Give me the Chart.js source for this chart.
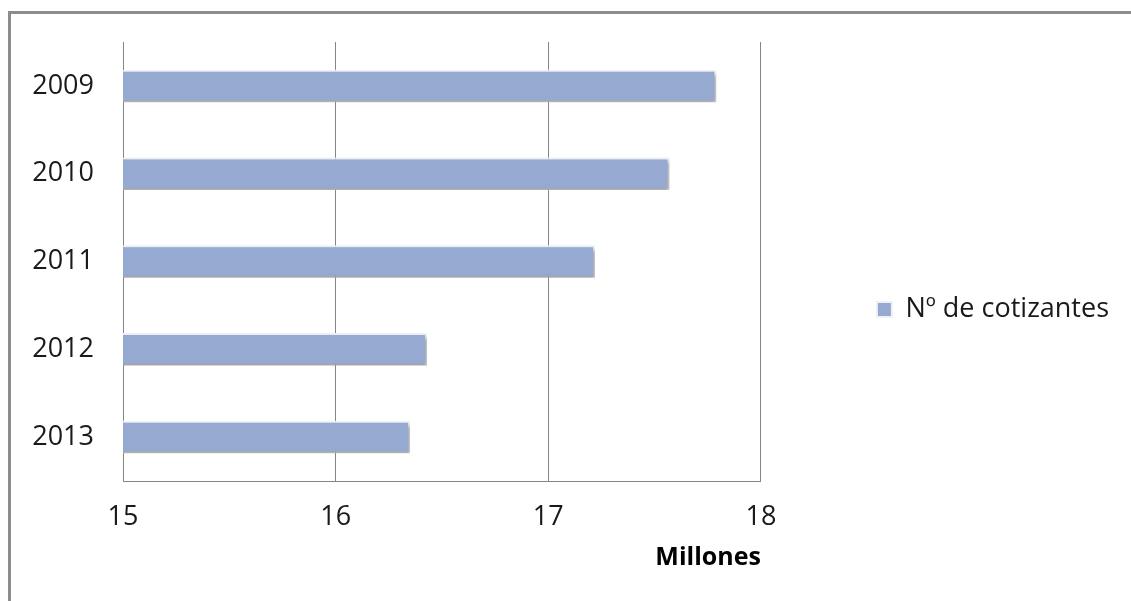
<!DOCTYPE html>
<html>
<head>
<meta charset="utf-8">
<script src="https://cdn.jsdelivr.net/npm/chart.js@4"></script>
<style>
  html, body { margin: 0; padding: 0; background: #fff; }
  #wrap { position: relative; width: 1131px; height: 601px; overflow: hidden; }
  #frame { position: absolute; left: 8px; top: 11px; right: -10px; bottom: -10px;
           border-left: 3px solid #8c8c8c; border-top: 3px solid #8c8c8c; }
  #box { position: absolute; left: 0; top: 0; width: 1131px; height: 601px; }
</style>
</head>
<body>
<div id="wrap">
  <div id="frame"></div>
  <div id="box"><canvas id="chart"></canvas></div>
</div>
<script>
const years = ["2009", "2010", "2011", "2012", "2013"];
const cotizantes = [17.79, 17.57, 17.22, 16.43, 16.35];
const xTicks = [15, 16, 17, 18];

const FONT = "'Open Sans', sans-serif";

// sombra bajo las barras
const barShadow = {
  id: "barShadow",
  beforeDatasetsDraw(chart) {
    const ctx = chart.ctx;
    ctx.save();
    ctx.shadowColor = "rgba(0,0,0,0.35)";
    ctx.shadowOffsetX = 2;
    ctx.shadowOffsetY = 3;
    ctx.shadowBlur = 4;
  },
  afterDatasetsDraw(chart) {
    chart.ctx.restore();
  }
};

new Chart(document.getElementById("chart"), {
  type: "bar",
  data: {
    labels: years,
    datasets: [{
      label: "Nº de cotizantes",
      data: cotizantes,
      backgroundColor: "#95a9d1",
      borderColor: "#eef1f7",
      borderWidth: 2,
      barPercentage: 0.37,
      categoryPercentage: 1
    }]
  },
  options: {
    indexAxis: "y",
    responsive: true,
    maintainAspectRatio: false,
    animation: false,
    layout: { padding: { left: 20, right: 12, top: 42, bottom: 24 } },
    scales: {
      x: {
        min: 15,
        max: 18,
        afterBuildTicks: (s) => { s.ticks = xTicks.map(v => ({ value: v })); },
        afterFit: (s) => { s.height = 96; },
        grid: { color: "#868686", lineWidth: 1, drawTicks: false },
        border: { color: "#868686", width: 1 },
        ticks: { padding: 20, color: "#1a1a1a", font: { family: FONT, size: 27 } },
        title: {
          display: true,
          text: "Millones",
          align: "end",
          color: "#000",
          font: { family: FONT, size: 25, weight: "bold" },
          padding: { top: 0, bottom: 4 }
        }
      },
      y: {
        afterFit: (s) => { s.width = 103; s.paddingTop = 0; s.paddingBottom = 0; },
        grid: { display: false, drawTicks: false },
        border: { color: "#868686", width: 1 },
        ticks: { padding: 29, color: "#1a1a1a", font: { family: FONT, size: 27 } }
      },
      gap: {
        type: "linear",
        position: "right",
        display: true,
        grid: { display: false },
        border: { display: false },
        ticks: { display: false },
        afterFit: (s) => { s.width = 106; s.paddingTop = 0; s.paddingBottom = 0; }
      }
    },
    plugins: {
      legend: {
        position: "right",
        maxWidth: 400,
        labels: {
          boxWidth: 15,
          boxHeight: 15,
          color: "#1a1a1a",
          font: { family: FONT, size: 27 }
        }
      },
      tooltip: { enabled: false }
    }
  },
  plugins: [barShadow]
});
</script>
</body>
</html>
